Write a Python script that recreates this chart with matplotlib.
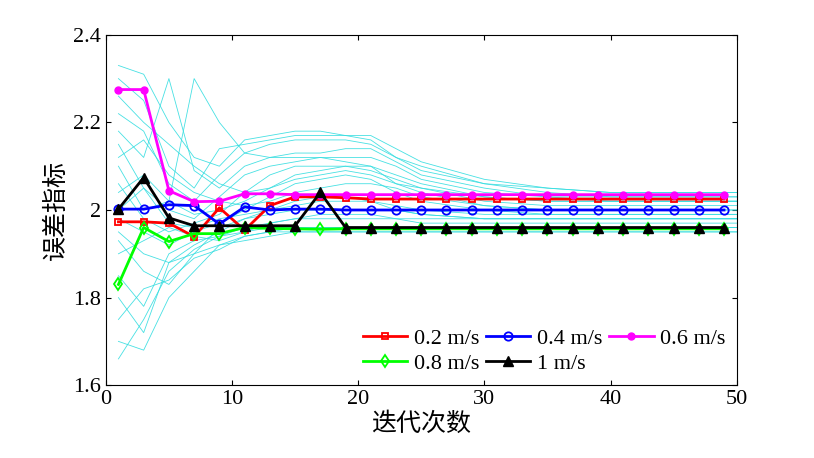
import matplotlib
matplotlib.use("Agg")
import matplotlib.pyplot as plt

plt.rcParams['font.family'] = ['Liberation Serif', 'Noto Sans CJK SC']

# main series, iterations 1, 3, ..., 49
iters = list(range(1, 50, 2))
v02 = [1.973, 1.973, 1.970, 1.939, 2.005, 1.954, 2.010, 2.030, 2.030, 2.028, 2.025, 2.025, 2.025,
       2.025, 2.025, 2.025, 2.025, 2.025, 2.025, 2.025, 2.025, 2.025, 2.025, 2.025, 2.025]
v04 = [2.002, 2.002, 2.012, 2.010, 1.968, 2.007, 2.000, 2.002, 2.002, 2.000, 2.000, 2.000, 2.000,
       2.000, 2.000, 2.000, 2.000, 2.000, 2.000, 2.000, 2.000, 2.000, 2.000, 2.000, 2.000]
v06 = [2.275, 2.275, 2.044, 2.019, 2.020, 2.037, 2.037, 2.035, 2.035, 2.035, 2.035, 2.035, 2.035,
       2.035, 2.035, 2.035, 2.035, 2.035, 2.035, 2.035, 2.035, 2.035, 2.035, 2.035, 2.035]
v08 = [1.830, 1.960, 1.928, 1.946, 1.946, 1.960, 1.958, 1.957, 1.956, 1.957, 1.957, 1.957, 1.957,
       1.957, 1.957, 1.957, 1.957, 1.957, 1.957, 1.957, 1.957, 1.957, 1.957, 1.957, 1.957]
v10 = [2.002, 2.074, 1.982, 1.964, 1.964, 1.964, 1.964, 1.964, 2.040, 1.960, 1.960, 1.960, 1.960,
       1.960, 1.960, 1.960, 1.960, 1.960, 1.960, 1.960, 1.960, 1.960, 1.960, 1.960, 1.960]

# background cyan traces, read at these iterations
bg_x = [1, 3, 5, 7, 9, 11, 13, 15, 17, 19, 21, 23, 25, 30, 35, 40, 50]
bg_traces = [
    [2.33, 2.31, 2.20, 2.12, 2.10, 2.16, 2.17, 2.18, 2.18, 2.17, 2.17, 2.14, 2.11, 2.07, 2.05, 2.04, 2.04],
    [2.30, 2.25, 2.10, 2.05, 2.14, 2.15, 2.16, 2.17, 2.17, 2.17, 2.16, 2.12, 2.09, 2.06, 2.05, 2.04, 2.04],
    [2.22, 2.18, 2.06, 2.02, 2.08, 2.13, 2.15, 2.16, 2.16, 2.16, 2.15, 2.12, 2.10, 2.06, 2.04, 2.03, 2.03],
    [2.18, 2.12, 2.30, 2.09, 2.05, 2.10, 2.12, 2.13, 2.13, 2.14, 2.14, 2.11, 2.08, 2.05, 2.03, 2.03, 2.03],
    [2.15, 2.05, 2.00, 1.98, 2.03, 2.08, 2.10, 2.11, 2.12, 2.12, 2.12, 2.10, 2.07, 2.04, 2.03, 2.02, 2.02],
    [2.10, 2.00, 2.02, 2.30, 2.20, 2.13, 2.12, 2.12, 2.12, 2.11, 2.10, 2.08, 2.06, 2.03, 2.02, 2.02, 2.02],
    [2.06, 1.98, 1.95, 1.97, 1.99, 2.04, 2.08, 2.10, 2.10, 2.10, 2.09, 2.07, 2.05, 2.02, 2.01, 2.01, 2.01],
    [2.04, 2.08, 2.02, 1.99, 2.00, 2.02, 2.05, 2.08, 2.09, 2.10, 2.10, 2.06, 2.04, 2.01, 2.00, 2.00, 2.00],
    [1.98, 1.95, 1.92, 1.95, 1.97, 2.00, 2.03, 2.06, 2.07, 2.08, 2.07, 2.04, 2.02, 2.00, 1.99, 1.99, 1.99],
    [1.95, 1.90, 1.88, 1.92, 1.95, 1.98, 2.00, 2.02, 2.03, 2.03, 2.02, 2.00, 1.99, 1.98, 1.98, 1.98, 1.98],
    [1.90, 1.93, 1.96, 1.94, 1.93, 1.95, 1.97, 1.98, 1.99, 1.99, 1.99, 1.98, 1.97, 1.97, 1.97, 1.97, 1.97],
    [1.85, 1.78, 1.90, 1.93, 1.94, 1.95, 1.96, 1.96, 1.96, 1.96, 1.96, 1.96, 1.96, 1.96, 1.96, 1.96, 1.96],
    [1.80, 1.72, 1.88, 1.90, 1.92, 1.93, 1.94, 1.95, 1.95, 1.95, 1.95, 1.95, 1.95, 1.95, 1.95, 1.95, 1.95],
    [1.75, 1.82, 1.84, 1.89, 1.91, 1.94, 1.95, 1.95, 1.95, 1.95, 1.95, 1.95, 1.95, 1.95, 1.95, 1.95, 1.95],
    [1.70, 1.68, 1.80, 1.86, 1.92, 1.94, 1.95, 1.96, 1.96, 1.96, 1.96, 1.96, 1.96, 1.96, 1.96, 1.96, 1.96],
    [1.66, 1.75, 1.86, 1.91, 1.94, 1.96, 1.97, 1.98, 1.98, 1.98, 1.98, 1.98, 1.98, 1.98, 1.98, 1.98, 1.98],
    [2.26, 2.20, 2.15, 2.10, 2.06, 2.04, 2.05, 2.07, 2.08, 2.09, 2.08, 2.06, 2.05, 2.03, 2.02, 2.02, 2.02],
    [2.12, 2.16, 2.08, 2.04, 2.02, 2.01, 2.02, 2.04, 2.05, 2.06, 2.06, 2.05, 2.03, 2.01, 2.00, 2.00, 2.00],
    [2.00, 2.05, 1.97, 1.96, 1.98, 1.99, 2.00, 2.01, 2.02, 2.02, 2.02, 2.01, 2.00, 1.99, 1.99, 1.99, 1.99],
    [1.93, 1.86, 1.83, 1.90, 1.96, 1.98, 1.99, 2.00, 2.00, 2.00, 2.00, 2.00, 1.99, 1.98, 1.98, 1.98, 1.98],
]

fig = plt.figure(figsize=(8.14, 4.58), dpi=100)
ax = fig.add_axes([0.130, 0.159, 0.775, 0.765])

for tr in bg_traces:
    ax.plot(bg_x, tr, color="#33dde0", linewidth=0.6, alpha=0.9)

h02, = ax.plot(iters, v02, color="red", marker="s", markersize=5, mfc="none", mew=1.3, lw=2, label="0.2 m/s")
h04, = ax.plot(iters, v04, color="blue", marker="o", markersize=6, mfc="none", mew=1.3, lw=2, label="0.4 m/s")
h06, = ax.plot(iters, v06, color="magenta", marker="o", markersize=5, lw=2, label="0.6 m/s")
h08, = ax.plot(iters, v08, color="#00ff00", marker="d", markersize=6, mfc="none", mew=1.3, lw=2, label="0.8 m/s")
h10, = ax.plot(iters, v10, color="black", marker="^", markersize=7, lw=2, label="1 m/s")

ax.set_xlim(0, 50)
ax.set_ylim(1.6, 2.4)
ax.set_xticks([0, 10, 20, 30, 40, 50])
ax.set_yticks([1.6, 1.8, 2.0, 2.2, 2.4])
ax.set_yticklabels(["1.6", "1.8", "2", "2.2", "2.4"])
ax.tick_params(labelsize=16, direction="in", top=True, right=True)
ax.set_xlabel("迭代次数", fontsize=18, labelpad=2)
ax.set_ylabel("误差指标", fontsize=18)
# column-major fill: reorder so rows read 0.2/0.4/0.6 then 0.8/1
handles = [h02, h08, h04, h10, h06]
ax.legend(handles, [h.get_label() for h in handles], ncol=3, loc="lower right",
          fontsize=16, frameon=True, edgecolor="white", framealpha=1, handlelength=2,
          columnspacing=0.3, handletextpad=0.3, borderaxespad=0.3, labelspacing=0.2,
          borderpad=0.2)

fig.savefig("out.png", dpi=100)
